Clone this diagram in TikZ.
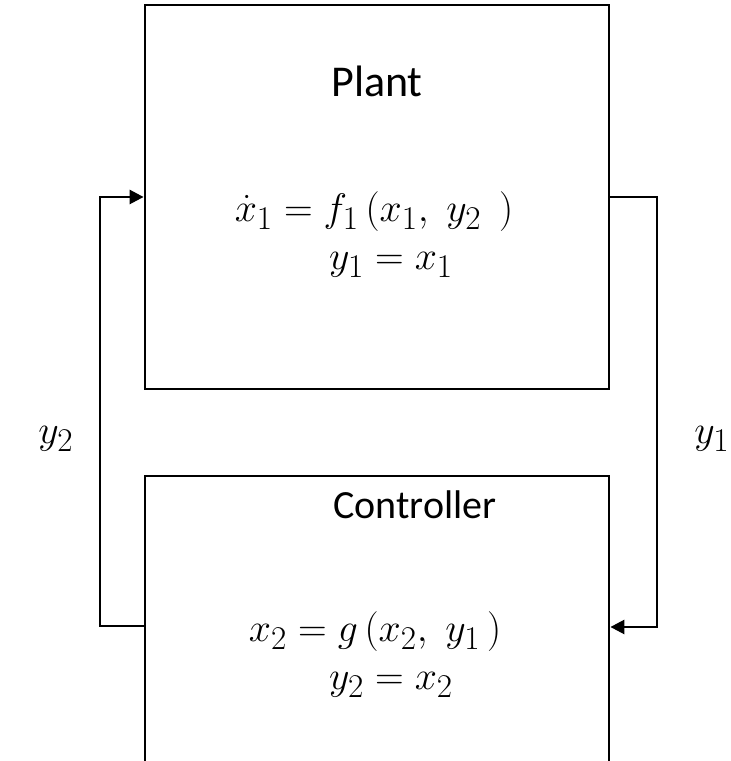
\documentclass[tikz,border=0pt]{standalone}
\usepackage{fontspec}
\usepackage{graphicx}
\setmainfont{Carlito}
\usetikzlibrary{arrows.meta}
\tikzset{
  blockbox/.style={draw, line width=2.8pt, rectangle, inner sep=0pt},
  conn/.style={draw, line width=2.6pt},
  arr/.style={conn, -{Triangle[length=14pt,width=14pt]}},
  ttl/.style={font=\fontsize{44}{50}\selectfont, inner sep=0pt},
  ttlc/.style={font=\fontsize{40}{46}\selectfont, inner sep=0pt},
  mth/.style={font=\fontsize{24.88}{30}\selectfont, inner sep=0pt},
}
\newcommand{\mybigmath}[1]{\scalebox{1.6}{$#1$}}
\begin{document}
\begin{tikzpicture}[x=1pt,y=1pt]
\useasboundingbox (0,0) rectangle (731,761);
\clip (0,0) rectangle (731,761);
% boxes
\node[blockbox, minimum width=464pt, minimum height=384pt] (plant) at (377,564) {};
\node[blockbox, minimum width=464pt, minimum height=320pt] (ctrl) at (377,125) {};
% texts
\node[ttl] (ptitle) at (377,680) {Plant};
\node[mth] (peq1) at (374,549) {\mybigmath{\dot{x}_1 = f_1\,(x_1,\; y_2\;\,)}};
\node[mth] (peq2) at (391,496) {\mybigmath{y_1 = x_1}};
\node[ttlc] (ctitle) at (415,256) {Controller};
\node[mth] (ceq1) at (375,129) {\mybigmath{x_2 = g\,(x_2,\; y_1\,)}};
\node[mth] (ceq2) at (391,76) {\mybigmath{y_2 = x_2}};
\node[mth] (ly2) at (56,322) {\mybigmath{y_2}};
\node[mth] (ly1) at (712,322) {\mybigmath{y_1}};
% connectors
\coordinate (cw) at ([yshift=10pt]ctrl.west);
\coordinate (ce) at ([yshift=9pt]ctrl.east);
\coordinate (lft) at (100,0);
\coordinate (rgt) at (657,0);
\draw[arr] (cw) -- (lft |- cw) |- (plant.west);
\draw[arr] (plant.east) -- (rgt |- plant.east) |- (ce);
\end{tikzpicture}
\end{document}
